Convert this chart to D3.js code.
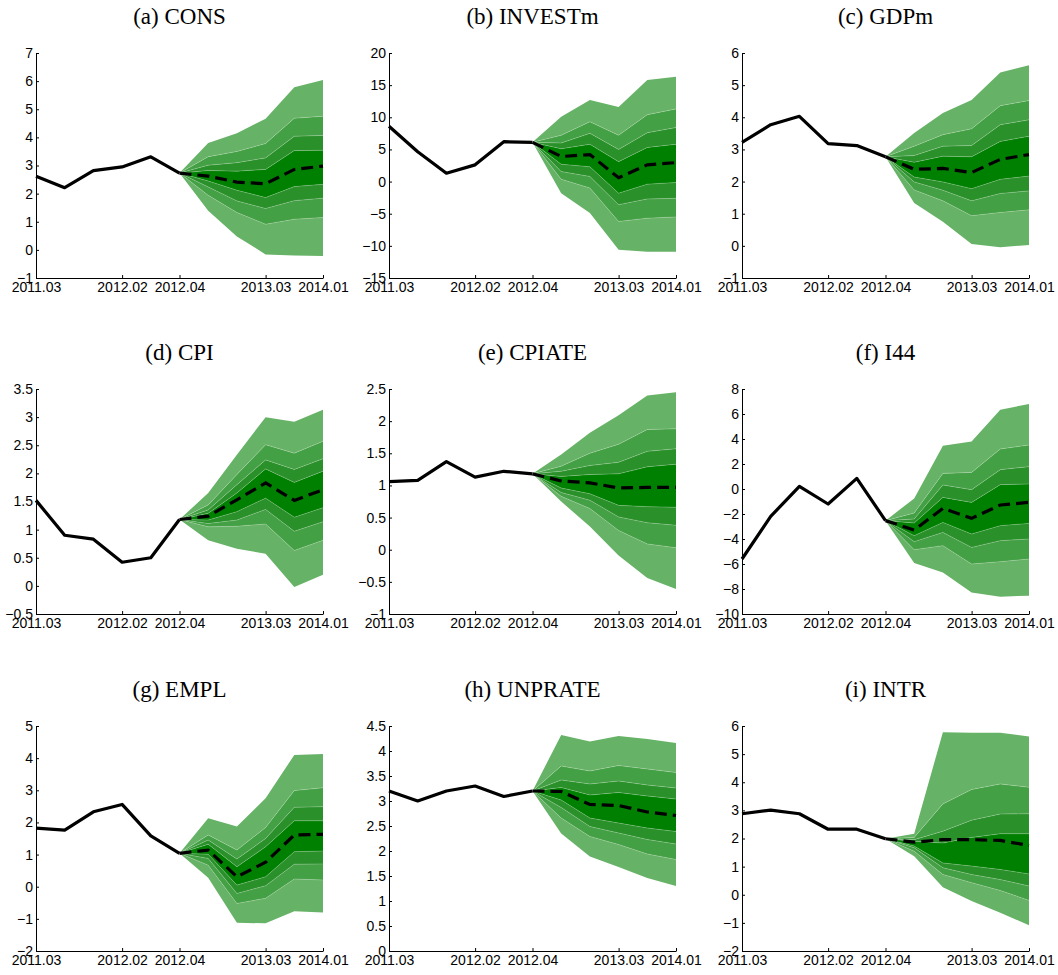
<!DOCTYPE html>
<html>
<head>
<meta charset="utf-8">
<script src="https://cdn.jsdelivr.net/npm/d3@7"></script>
<style>
  body { margin: 0; background: #fff; }
</style>
</head>
<body>
<script>
// Quarters on the x axis, and the ones that get a tick label
const quarters = ["2011.03", "2011.04", "2012.01", "2012.02", "2012.03", "2012.04",
                  "2013.01", "2013.02", "2013.03", "2013.04", "2014.01"];
const tickQuarters = ["2011.03", "2012.02", "2012.04", "2013.03", "2014.01"];

const titles = ["(a) CONS", "(b) INVESTm", "(c) GDPm",
                "(d) CPI", "(e) CPIATE", "(f) I44",
                "(g) EMPL", "(h) UNPRATE", "(i) INTR"];

// y tick values per panel
const yTicks = [
    [-1, 0, 1, 2, 3, 4, 5, 6, 7],
    [-15, -10, -5, 0, 5, 10, 15, 20],
    [-1, 0, 1, 2, 3, 4, 5, 6],
    [-0.5, 0, 0.5, 1, 1.5, 2, 2.5, 3, 3.5],
    [-1, -0.5, 0, 0.5, 1, 1.5, 2, 2.5],
    [-10, -8, -6, -4, -2, 0, 2, 4, 6, 8],
    [-2, -1, 0, 1, 2, 3, 4, 5],
    [0, 0.5, 1, 1.5, 2, 2.5, 3, 3.5, 4, 4.5],
    [-2, -1, 0, 1, 2, 3, 4, 5, 6]
];

// Observed values, 2011.03 .. 2012.04
const histCONS    = [2.62, 2.21, 2.82, 2.95, 3.31, 2.73];
const histINVEST  = [8.6, 4.65, 1.3, 2.6, 6.2, 6.1];
const histGDP     = [3.22, 3.77, 4.03, 3.18, 3.12, 2.77];
const histCPI     = [1.52, 0.9, 0.83, 0.42, 0.5, 1.18];
const histCPIATE  = [1.06, 1.08, 1.37, 1.13, 1.22, 1.18];
const histI44     = [-5.6, -2.19, 0.21, -1.2, 0.85, -2.53];
const histEMPL    = [1.82, 1.76, 2.33, 2.56, 1.58, 1.04];
const histUNPRATE = [3.2, 3.0, 3.2, 3.3, 3.09, 3.2];
const histINTR    = [2.88, 3.01, 2.88, 2.33, 2.33, 1.99];

// Central forecast, 2012.04 .. 2014.01
const medCONS    = [2.73, 2.62, 2.41, 2.35, 2.86, 2.98];
const medINVEST  = [6.1, 3.9, 4.2, 0.6, 2.6, 2.95];
const medGDP     = [2.77, 2.38, 2.41, 2.28, 2.69, 2.84];
const medCPI     = [1.18, 1.24, 1.53, 1.83, 1.52, 1.71];
const medCPIATE  = [1.18, 1.07, 1.04, 0.96, 0.97, 0.97];
const medI44     = [-2.53, -3.28, -1.55, -2.35, -1.28, -1.07];
const medEMPL    = [1.04, 1.14, 0.31, 0.76, 1.61, 1.63];
const medUNPRATE = [3.2, 3.19, 2.93, 2.91, 2.78, 2.71];
const medINTR    = [1.99, 1.87, 1.96, 1.96, 1.93, 1.75];

// Fan boundaries, lowest to highest, 2012.04 .. 2014.01
const bandsCONS = [
    [2.73, 1.39, 0.48, -0.16, -0.2, -0.22],
    [2.73, 1.94, 1.33, 0.91, 1.09, 1.15],
    [2.73, 2.24, 1.74, 1.47, 1.75, 1.84],
    [2.73, 2.45, 2.12, 1.86, 2.25, 2.33],
    [2.73, 2.82, 2.8, 2.86, 3.53, 3.54],
    [2.73, 3.01, 3.1, 3.27, 4.04, 4.07],
    [2.73, 3.31, 3.5, 3.78, 4.68, 4.75],
    [2.73, 3.8, 4.15, 4.66, 5.78, 6.04]
];
const bandsINVEST = [
    [6.1, -1.8, -4.9, -10.6, -10.9, -10.9],
    [6.1, 0.36, -1.0, -6.2, -5.7, -5.5],
    [6.1, 1.55, 0.8, -3.6, -2.7, -2.6],
    [6.1, 2.7, 2.3, -1.8, -0.4, -0.15],
    [6.1, 5.1, 5.8, 3.1, 5.3, 5.8],
    [6.1, 6.0, 7.5, 5.0, 7.6, 8.4],
    [6.1, 7.2, 9.3, 7.2, 10.4, 11.3],
    [6.1, 10.1, 12.7, 11.6, 15.8, 16.3]
];
const bandsGDP = [
    [2.77, 1.33, 0.75, 0.06, -0.04, 0.03],
    [2.77, 1.74, 1.4, 0.94, 1.04, 1.12],
    [2.77, 1.99, 1.73, 1.4, 1.63, 1.71],
    [2.77, 2.14, 1.99, 1.78, 2.07, 2.17],
    [2.77, 2.6, 2.79, 2.77, 3.25, 3.41],
    [2.77, 2.81, 3.1, 3.12, 3.77, 3.92],
    [2.77, 3.1, 3.46, 3.64, 4.36, 4.52],
    [2.77, 3.51, 4.13, 4.54, 5.39, 5.62]
];
const bandsCPI = [
    [1.18, 0.81, 0.66, 0.57, -0.02, 0.2],
    [1.18, 1.05, 1.06, 1.1, 0.63, 0.81],
    [1.18, 1.11, 1.17, 1.36, 0.97, 1.14],
    [1.18, 1.17, 1.32, 1.56, 1.22, 1.39],
    [1.18, 1.29, 1.65, 2.08, 1.84, 2.04],
    [1.18, 1.35, 1.8, 2.24, 2.07, 2.26],
    [1.18, 1.44, 1.98, 2.51, 2.36, 2.57],
    [1.18, 1.65, 2.33, 3.0, 2.92, 3.13]
];
const bandsCPIATE = [
    [1.18, 0.75, 0.36, -0.09, -0.44, -0.61],
    [1.18, 0.83, 0.64, 0.3, 0.09, 0.03],
    [1.18, 0.89, 0.77, 0.51, 0.42, 0.38],
    [1.18, 0.96, 0.87, 0.69, 0.67, 0.66],
    [1.18, 1.14, 1.17, 1.18, 1.29, 1.33],
    [1.18, 1.22, 1.31, 1.36, 1.53, 1.57],
    [1.18, 1.3, 1.5, 1.64, 1.87, 1.88],
    [1.18, 1.48, 1.82, 2.09, 2.4, 2.45]
];
const bandsI44 = [
    [-2.53, -5.92, -6.67, -8.27, -8.61, -8.53],
    [-2.53, -4.85, -4.53, -6.0, -5.81, -5.6],
    [-2.53, -4.21, -3.47, -4.67, -4.13, -4.0],
    [-2.53, -3.73, -2.67, -3.6, -2.93, -2.75],
    [-2.53, -2.72, -0.67, -1.07, 0.35, 0.4],
    [-2.53, -2.4, 0.32, -0.05, 1.55, 1.79],
    [-2.53, -1.92, 1.25, 1.33, 3.2, 3.52],
    [-2.53, -0.75, 3.47, 3.81, 6.35, 6.8]
];
const bandsEMPL = [
    [1.04, 0.28, -1.12, -1.14, -0.76, -0.8],
    [1.04, 0.67, -0.52, -0.36, 0.24, 0.21],
    [1.04, 0.88, -0.21, 0.03, 0.7, 0.71],
    [1.04, 1.01, 0.05, 0.31, 1.09, 1.11],
    [1.04, 1.32, 0.62, 1.24, 2.05, 2.05],
    [1.04, 1.45, 0.86, 1.5, 2.47, 2.49],
    [1.04, 1.61, 1.14, 1.84, 2.99, 3.08],
    [1.04, 2.13, 1.87, 2.75, 4.1, 4.13]
];
const bandsUNPRATE = [
    [3.2, 2.35, 1.89, 1.68, 1.46, 1.3],
    [3.2, 2.66, 2.29, 2.13, 1.94, 1.83],
    [3.2, 2.87, 2.49, 2.36, 2.23, 2.14],
    [3.2, 3.02, 2.66, 2.56, 2.46, 2.39],
    [3.2, 3.27, 3.12, 3.17, 3.1, 3.04],
    [3.2, 3.42, 3.34, 3.4, 3.32, 3.26],
    [3.2, 3.7, 3.6, 3.71, 3.64, 3.57],
    [3.2, 4.32, 4.19, 4.3, 4.24, 4.16]
];
const bandsINTR = [
    [1.99, 1.37, 0.27, -0.22, -0.64, -1.08],
    [1.99, 1.55, 0.72, 0.43, 0.15, -0.2],
    [1.99, 1.67, 0.96, 0.72, 0.54, 0.31],
    [1.99, 1.73, 1.13, 1.02, 0.9, 0.74],
    [1.99, 1.9, 1.84, 2.04, 2.17, 2.17],
    [1.99, 1.96, 2.26, 2.65, 2.87, 2.88],
    [1.99, 2.04, 3.23, 3.74, 3.94, 3.82],
    [1.99, 2.17, 5.78, 5.76, 5.76, 5.63]
];

const histories = [histCONS, histINVEST, histGDP, histCPI, histCPIATE, histI44, histEMPL, histUNPRATE, histINTR];
const medians = [medCONS, medINVEST, medGDP, medCPI, medCPIATE, medI44, medEMPL, medUNPRATE, medINTR];
const fans = [bandsCONS, bandsINVEST, bandsGDP, bandsCPI, bandsCPIATE, bandsI44, bandsEMPL, bandsUNPRATE, bandsINTR];

// band colours from outermost (low) to outermost (high)
const bandColors = ["#66b266", "#44a044", "#2a902a", "#008000", "#2a902a", "#44a044", "#66b266"];

// layout of the 3x3 grid
const width = 1058, height = 975;
const colLeft = [36, 389, 742];
const rowTop = [53, 389, 726];
const plotW = 287, plotH = 225;
const forecastStart = 5;

const svg = d3.select("body").append("svg")
    .attr("width", width)
    .attr("height", height);

titles.forEach(function(title, i) {
    const g = svg.append("g")
        .attr("transform", "translate(" + colLeft[i % 3] + "," + rowTop[Math.floor(i / 3)] + ")");

    const ticks = yTicks[i];
    const x = d3.scalePoint().domain(quarters).range([0, plotW]);
    const y = d3.scaleLinear().domain([ticks[0], ticks[ticks.length - 1]]).range([plotH, 0]);
    const fq = quarters.slice(forecastStart);

    // fan bands
    const bands = fans[i];
    for (let k = 0; k < bands.length - 1; k++) {
        const lo = bands[k], hi = bands[k + 1];
        const area = d3.area()
            .x((d, j) => x(fq[j]))
            .y0((d, j) => y(lo[j]))
            .y1((d, j) => y(hi[j]));
        g.append("path")
            .attr("d", area(lo))
            .attr("fill", bandColors[k]);
    }
    // faint seams between bands
    const seam = d3.line().x((d, j) => x(fq[j])).y(d => y(d));
    for (let k = 1; k < bands.length - 1; k++) {
        g.append("path")
            .attr("d", seam(bands[k]))
            .attr("fill", "none")
            .attr("stroke", "#ffffff")
            .attr("stroke-opacity", 0.3)
            .attr("stroke-width", 0.7);
    }

    // axes
    const xAxis = d3.axisBottom(x)
        .tickValues(tickQuarters)
        .tickSizeInner(-3)
        .tickSizeOuter(0)
        .tickPadding(4);
    const yAxis = d3.axisLeft(y)
        .tickValues(ticks)
        .tickSizeInner(-3)
        .tickSizeOuter(0)
        .tickPadding(3)
        .tickFormat(d3.format("~g"));

    const gx = g.append("g").attr("transform", "translate(0," + plotH + ")").call(xAxis);
    const gy = g.append("g").call(yAxis);
    [gx, gy].forEach(function(a) {
        a.attr("font-family", "'Liberation Sans', Arial, sans-serif").attr("font-size", 14);
        a.select(".domain").attr("stroke", "#000");
        a.selectAll(".tick line").attr("stroke", "#000");
        a.selectAll(".tick text").attr("fill", "#000");
    });

    // history line
    const line = d3.line().x((d, j) => x(quarters[j])).y(d => y(d));
    g.append("path")
        .attr("d", line(histories[i]))
        .attr("fill", "none")
        .attr("stroke", "#000")
        .attr("stroke-width", 3.2)
        .attr("stroke-linejoin", "round");

    // central forecast, dashed
    const mline = d3.line().x((d, j) => x(fq[j])).y(d => y(d));
    g.append("path")
        .attr("d", mline(medians[i]))
        .attr("fill", "none")
        .attr("stroke", "#000")
        .attr("stroke-width", 3.2)
        .attr("stroke-dasharray", "12,6");

    // panel title
    g.append("text")
        .attr("x", plotW / 2)
        .attr("y", -29)
        .attr("text-anchor", "middle")
        .attr("font-family", "'Liberation Serif', 'Times New Roman', serif")
        .attr("font-size", 23)
        .attr("fill", "#000")
        .text(title);
});
</script>
</body>
</html>
